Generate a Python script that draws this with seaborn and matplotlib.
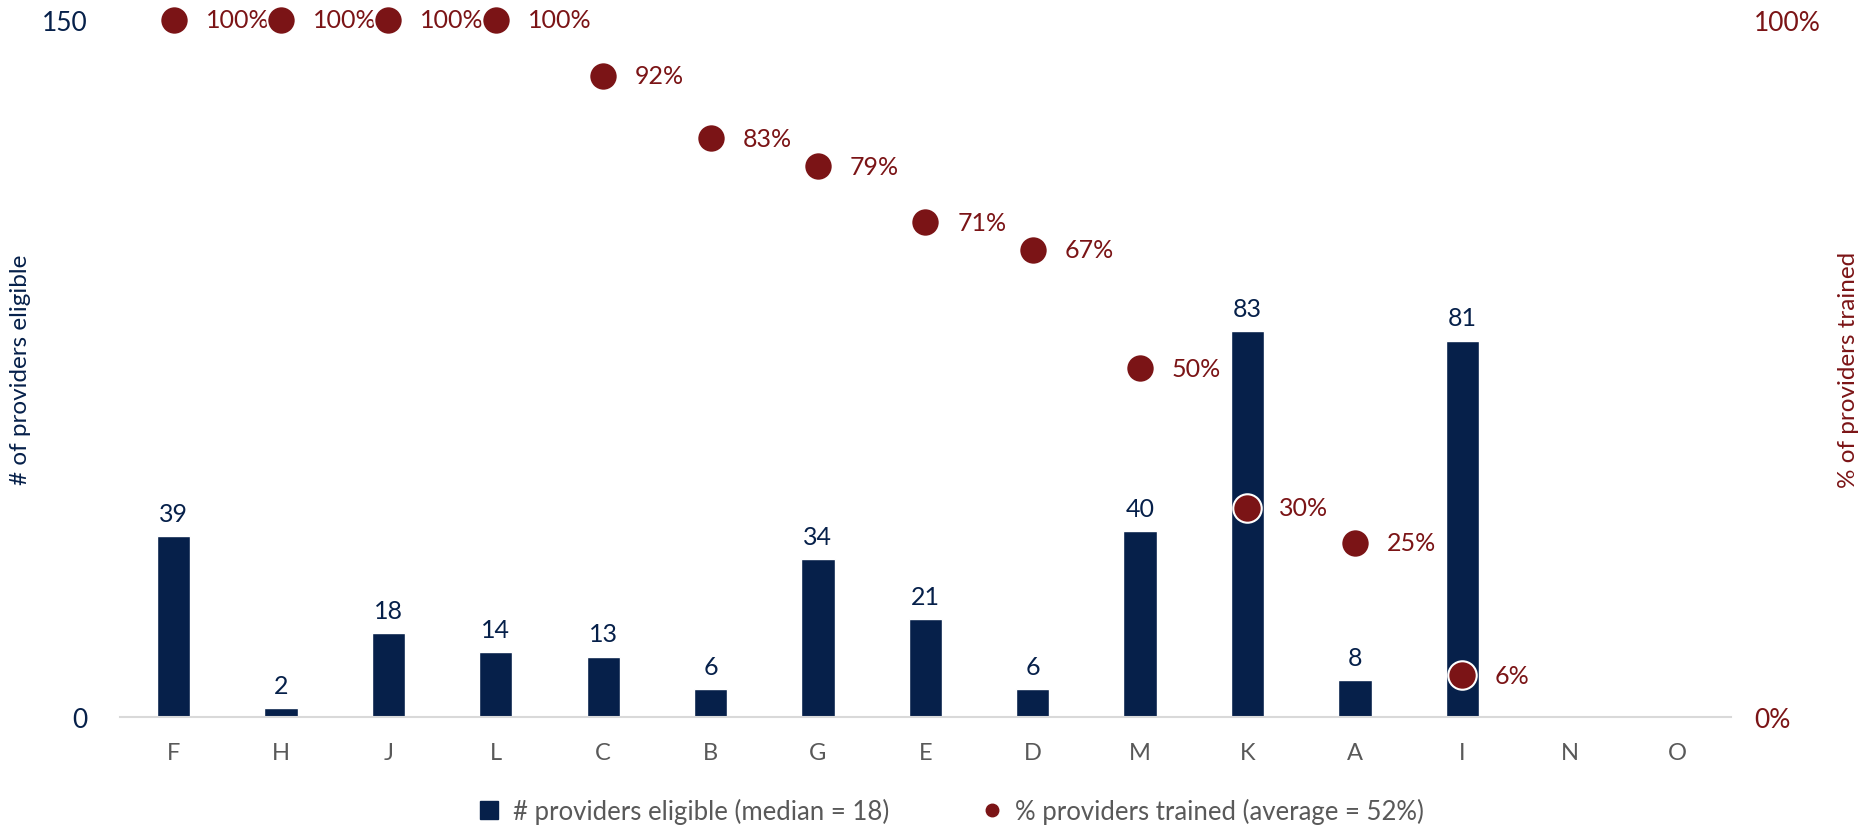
import numpy as np
import pandas as pd
import matplotlib
matplotlib.use("Agg")
import matplotlib.pyplot as plt
from matplotlib.lines import Line2D
import seaborn as sns

# values
categories = ['F', 'H', 'J', 'L', 'C', 'B', 'G', 'E', 'D', 'M', 'K', 'A', 'I', 'N', 'O']
eligible = [39, 2, 18, 14, 13, 6, 34, 21, 6, 40, 83, 8, 81, np.nan, np.nan]
trained_pct = [100, 100, 100, 100, 92, 83, 79, 71, 67, 50, 30, 25, 6, np.nan, np.nan]

navy = '#06204A'
red = '#7B1416'
grey = '#595959'

df = pd.DataFrame({'Site': categories, 'Eligible': eligible, 'Trained': trained_pct})
df['pos'] = np.arange(len(df))

sns.set_style("white")
plt.rcParams['font.family'] = ['Lato', 'DejaVu Sans']

fig = plt.figure(figsize=(18.65, 8.29), dpi=100)
ax = fig.add_axes([0.0643, 0.1339, 0.8637, 0.8408])

sns.barplot(data=df, x='Site', y='Eligible', order=categories, color=navy,
            width=0.31, saturation=1, ax=ax, errorbar=None)
for cont in ax.containers:
    labels = ['' if np.isnan(b.get_height()) else f"{b.get_height():.0f}" for b in cont]
    ax.bar_label(cont, labels=labels, padding=8, color=navy, fontsize=18)

ax.set_ylim(0, 150)
ax.set_xlim(-0.5, len(categories) - 0.5)
ax.set_yticks([0, 150])
ax.set_xlabel('')
ax.set_ylabel('# of providers eligible', color=navy, fontsize=17.5)
ax.yaxis.set_label_coords(-0.055, 0.5)
ax.tick_params(axis='y', colors=navy, labelsize=19, length=0, pad=23)
ax.tick_params(axis='x', colors=grey, labelsize=17, length=0, pad=18)
for s in ['top', 'right', 'left']:
    ax.spines[s].set_visible(False)
ax.spines['bottom'].set_color('#D9D9D9')
ax.spines['bottom'].set_linewidth(1.5)

ax2 = ax.twinx()
pts = df.dropna(subset=['Trained'])
sns.scatterplot(data=pts, x='pos', y='Trained', color=red, s=420,
                edgecolor='white', linewidth=1.5, ax=ax2, zorder=5, legend=False,
                clip_on=False)
for _, r in pts.iterrows():
    ax2.annotate(f"{r['Trained']:.0f}%", (r['pos'], r['Trained']), xytext=(23, 0),
                 textcoords='offset points', va='center', ha='left',
                 color=red, fontsize=18)
ax2.set_ylim(0, 100)
ax2.set_xlim(-0.5, len(categories) - 0.5)
ax2.set_yticks([0, 100])
ax2.set_yticklabels(['0%', '100%'])
ax2.set_ylabel('% of providers trained', color=red, fontsize=17.5, rotation=90)
ax2.yaxis.set_label_coords(1.0665, 0.5)
ax2.tick_params(axis='y', colors=red, labelsize=19, length=0, pad=17)
for s in ['top', 'right', 'left', 'bottom']:
    ax2.spines[s].set_visible(False)
ax2.set_xlabel('')

handles = [
    Line2D([], [], marker='s', ls='none', color=navy, markersize=13),
    Line2D([], [], marker='o', ls='none', color=red, markersize=9),
]
fig.legend(handles, ['# providers eligible (median = 18)', '% providers trained (average = 52%)'],
           loc='center', bbox_to_anchor=(0.506, 0.02), ncol=2, frameon=False,
           fontsize=18.5, labelcolor=grey, handletextpad=-0.1, columnspacing=3.0)

fig.savefig('out.png', dpi=100)
